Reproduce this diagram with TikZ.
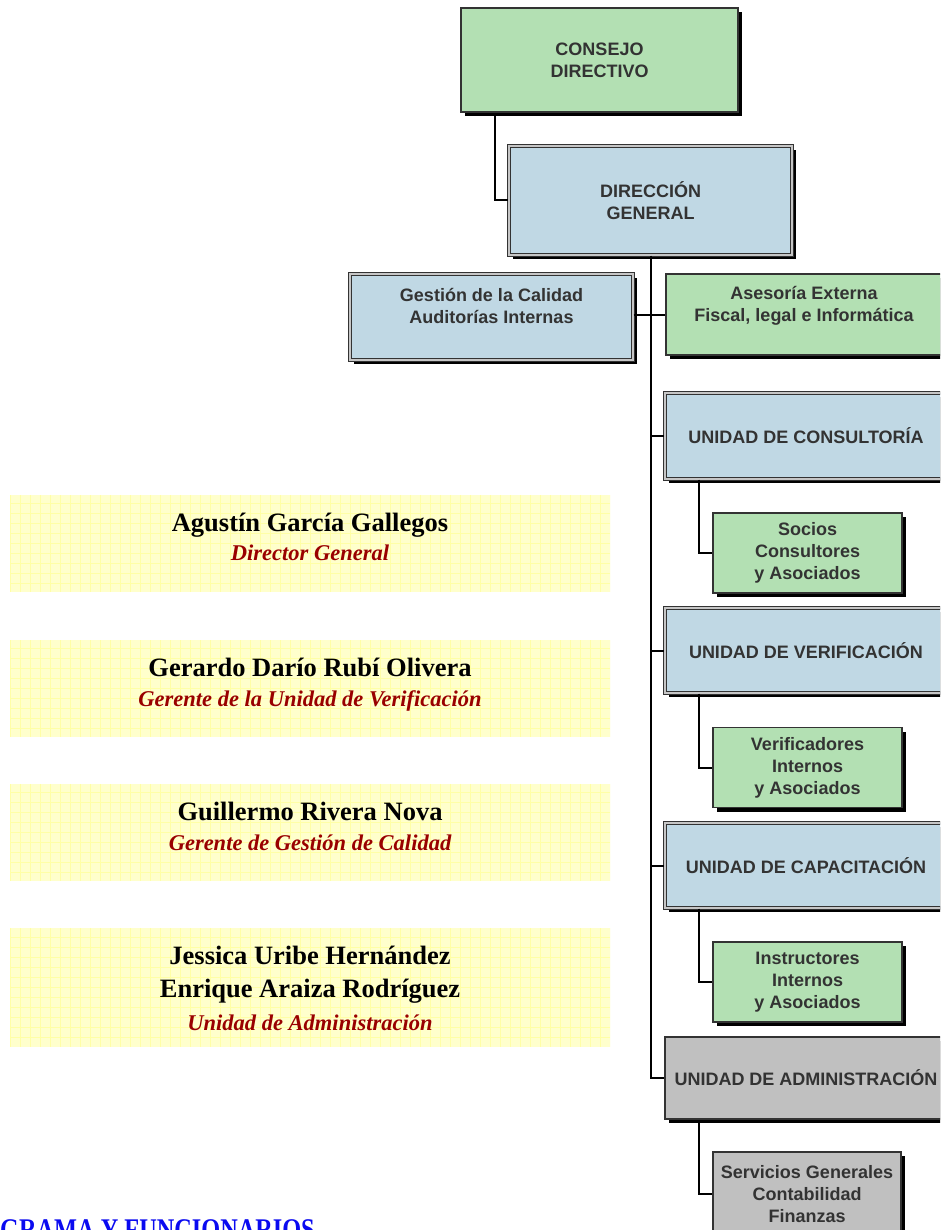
\documentclass[tikz,border=0pt]{standalone}
\usepackage{fontspec}
\setmainfont{Liberation Serif}
\newfontfamily\arialf{Liberation Sans}
\usetikzlibrary{shadows}
\definecolor{gr}{HTML}{B3E0B3}
\definecolor{bl}{HTML}{C0D8E4}
\definecolor{gy}{HTML}{C0C0C0}
\definecolor{bd}{HTML}{333333}
\definecolor{tx}{HTML}{333333}
\definecolor{yl}{HTML}{FFFFCC}
\definecolor{ylg}{HTML}{FFFFA6}
\definecolor{dred}{HTML}{990000}
\definecolor{ttl}{HTML}{0A0AF0}
\begin{document}
\begin{tikzpicture}[x=1pt,y=-1pt,
  box/.style={draw=bd, line width=1.8pt, inner sep=0pt, align=center, text=tx,
    font=\arialf\bfseries\fontsize{18}{22}\selectfont,
    drop shadow={shadow xshift=4pt, shadow yshift=-4pt, opacity=1, fill=black}},
  dbl/.style={double=white!55!gray, double distance=1.4pt, line width=1.3pt},
  conn/.style={draw=black, line width=2pt},
  pbox/.style={fill=yl, inner sep=0pt, minimum width=600pt,
    path picture={\draw[ylg, line width=0.5pt, step=10pt]
      (path picture bounding box.south west) grid (path picture bounding box.north east);}},
  pname/.style={anchor=base, font=\bfseries\fontsize{26.5}{30}\selectfont, text=black},
  ptitle/.style={anchor=base, font=\bfseries\itshape\fontsize{22.5}{26}\selectfont, text=dred}
]
\useasboundingbox (0,0) rectangle (940,1230);
\clip (0,0) rectangle (940,1230);

% top boxes
\node[box, fill=gr, minimum width=277pt, minimum height=104pt] (consejo) at (599.5,60) {CONSEJO\\DIRECTIVO};
\node[box, dbl, fill=bl, minimum width=283pt, minimum height=109pt] (direccion) at (650.5,200.5) {DIRECCIÓN\\GENERAL};
\node[box, dbl, fill=bl, minimum width=283pt, minimum height=86pt] (gestion) at (491.5,317) {Gestión de la Calidad\\Auditorías Internas\\\mbox{}};
\node[box, fill=gr, minimum width=276pt, minimum height=81pt] (asesoria) at (804,314.5) {Asesoría Externa\\Fiscal, legal e Informática\\\mbox{}};

% units
\node[box, dbl, fill=bl, minimum width=282pt, minimum height=86pt] (consultoria) at (806,436) {UNIDAD DE CONSULTORÍA};
\node[box, dbl, fill=bl, minimum width=282pt, minimum height=85pt] (verificacion) at (806,650.5) {UNIDAD DE VERIFICACIÓN};
\node[box, dbl, fill=bl, minimum width=282pt, minimum height=85pt] (capacitacion) at (806,865.5) {UNIDAD DE CAPACITACIÓN};
\node[box, fill=gy, minimum width=282pt, minimum height=82pt] (admin) at (806,1078) {UNIDAD DE ADMINISTRACIÓN};

% sub boxes
\node[box, fill=gr, minimum width=189pt, minimum height=80pt] (socios) at (807.5,553) {Socios\\Consultores\\y Asociados};
\node[box, fill=gr, minimum width=189pt, minimum height=80pt] (verificadores) at (807.5,767.5) {Verificadores\\Internos\\y Asociados};
\node[box, fill=gr, minimum width=189pt, minimum height=80pt] (instructores) at (807.5,982) {Instructores\\Internos\\y Asociados};
\node[box, fill=gy, minimum width=188pt, minimum height=84pt] (servicios) at (807,1194) {Servicios Generales\\Contabilidad\\Finanzas};

% connectors
\coordinate (c1) at (495,0);
\draw[conn] (consejo.south -| c1) |- (direccion.west);
\draw[conn] (direccion.south) |- (admin.west);
\draw[conn] (gestion.east |- asesoria.west) -- (asesoria.west);
\draw[conn] (direccion.south |- consultoria.west) -- (consultoria.west);
\draw[conn] (direccion.south |- verificacion.west) -- (verificacion.west);
\draw[conn] (direccion.south |- capacitacion.west) -- (capacitacion.west);
\coordinate (c2) at (699,0);
\draw[conn] (consultoria.south -| c2) |- (socios.west);
\draw[conn] (verificacion.south -| c2) |- (verificadores.west);
\draw[conn] (capacitacion.south -| c2) |- (instructores.west);
\draw[conn] (admin.south -| c2) |- (servicios.west);

% people
\node[pbox, minimum height=97pt] (p1) at (310,543.5) {};
\node[pname] (n1) at (310,531) {Agustín García Gallegos};
\node[ptitle] (t1) at (310,560) {Director General};

\node[pbox, minimum height=97pt] (p2) at (310,688.5) {};
\node[pname] (n2) at (310,676) {Gerardo Darío Rubí Olivera};
\node[ptitle] (t2) at (310,706) {Gerente de la Unidad de Verificación};

\node[pbox, minimum height=97pt] (p3) at (310,832.5) {};
\node[pname] (n3) at (310,820) {Guillermo Rivera Nova};
\node[ptitle] (t3) at (310,850) {Gerente de Gestión de Calidad};

\node[pbox, minimum height=119pt] (p4) at (310,987.5) {};
\node[pname] (n4a) at (310,964) {Jessica Uribe Hernández};
\node[pname] (n4b) at (310,997) {Enrique Araiza Rodríguez};
\node[ptitle] (t4) at (310,1030) {Unidad de Administración};

% bottom title (cut by the page edge, as in the reference)
\node[anchor=base east, inner sep=0pt, text=ttl, font=\bfseries\fontsize{30}{32}\selectfont] (title) at (315,1239) {\scalebox{0.81}[1]{ORGANIGRAMA Y FUNCIONARIOS}};
\end{tikzpicture}
\end{document}
